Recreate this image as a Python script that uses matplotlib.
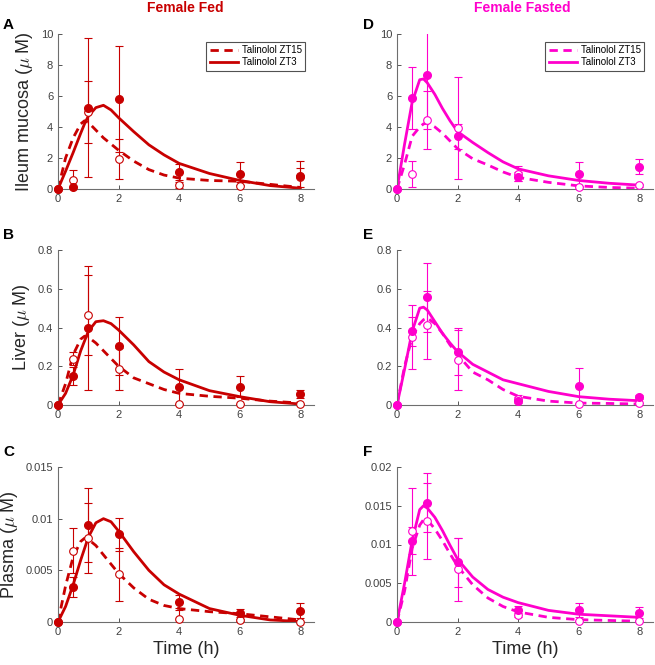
import numpy as np
import matplotlib.pyplot as plt
from matplotlib.ticker import FuncFormatter

plt.rcParams['font.family'] = ['Liberation Sans', 'DejaVu Sans']
plt.rcParams['mathtext.fontset'] = 'cm'

# sampling times (h)
t_data = [0, 0.5, 1, 2, 4, 6, 8]
t_fit = [0, 0.25, 0.5, 0.75, 0.875, 1, 1.25, 1.5, 1.75, 2, 2.5, 3, 3.5, 4, 5, 6, 7, 8]

# A: ileum mucosa, fed
ileum_fed_zt3 = [0, 0.15, 5.25, 5.8, 1.1, 1.0, 0.85]
ileum_fed_zt3_err = [0, 0, 4.5, 3.4, 0.5, 0.75, 0.95]
ileum_fed_zt15 = [0, 0.6, 5.0, 1.95, 0.25, 0.2, 0.75]
ileum_fed_zt15_err = [0, 0.65, 2.0, 1.3, 0.2, 0.25, 0.6]
ileum_fed_fit_zt3 = [0, 1.15, 2.35, 3.6, 4.2, 4.7, 5.25, 5.4, 5.1, 4.6, 3.7, 2.85, 2.2, 1.65, 1.0, 0.55, 0.22, 0.05]
ileum_fed_fit_zt15 = [0, 2.0, 3.3, 4.2, 4.4, 4.3, 3.8, 3.3, 2.9, 2.5, 1.8, 1.25, 0.9, 0.7, 0.55, 0.5, 0.3, 0.1]

# B: liver, fed
liver_fed_zt3 = [0, 0.15, 0.4, 0.305, 0.095, 0.095, 0.055]
liver_fed_zt3_err = [0, 0.045, 0.32, 0.15, 0.09, 0.055, 0.02]
liver_fed_zt15 = [0, 0.24, 0.465, 0.185, 0.005, 0.005, 0.005]
liver_fed_zt15_err = [0, 0.035, 0.205, 0.11, 0, 0, 0]
liver_fed_fit_zt3 = [0, 0.06, 0.155, 0.28, 0.33, 0.38, 0.43, 0.435, 0.42, 0.387, 0.31, 0.224, 0.17, 0.13, 0.074, 0.043, 0.017, 0.005]
liver_fed_fit_zt15 = [0, 0.11, 0.26, 0.34, 0.355, 0.35, 0.32, 0.28, 0.24, 0.2, 0.14, 0.11, 0.08, 0.06, 0.045, 0.035, 0.02, 0.01]

# C: plasma, fed
plasma_fed_zt3 = [0, 0.0034, 0.0094, 0.0085, 0.0019, 0.0009, 0.0011]
plasma_fed_zt3_err = [0, 0.001, 0.0036, 0.0016, 0.0007, 0.0004, 0.0007]
plasma_fed_zt15 = [0, 0.0069, 0.0081, 0.0046, 0.0003, 0.0002, 0.0]
plasma_fed_zt15_err = [0, 0.0022, 0.0034, 0.0026, 0.0011, 0.0001, 0]
plasma_fed_fit_zt3 = [0, 0.0015, 0.0036, 0.006, 0.0071, 0.0082, 0.0096, 0.01, 0.0097, 0.0088, 0.0068, 0.005, 0.0036, 0.0027, 0.0013, 0.00065, 0.0002, 0.00005]
plasma_fed_fit_zt15 = [0, 0.0035, 0.0063, 0.0078, 0.0081, 0.008, 0.0074, 0.0065, 0.0056, 0.0047, 0.0033, 0.0022, 0.0016, 0.0013, 0.001, 0.0008, 0.0005, 0.0002]

# D: ileum mucosa, fasted
ileum_fast_zt3 = [0, 5.85, 7.35, 3.4, 0.8, 0.95, 1.45]
ileum_fast_zt3_err = [0, 2.0, 3.5, 0.8, 0.3, 0.8, 0.5]
ileum_fast_zt15 = [0, 0.95, 4.45, 3.95, 1.0, 0.1, 0.25]
ileum_fast_zt15_err = [0, 0.85, 1.85, 3.3, 0.5, 0.1, 0.1]
ileum_fast_fit_zt3 = [0, 2.9, 5.6, 7.05, 7.1, 6.85, 6.1, 5.2, 4.4, 3.7, 3.0, 2.35, 1.75, 1.3, 0.85, 0.55, 0.37, 0.25]
ileum_fast_fit_zt15 = [0, 1.6, 3.4, 4.0, 4.2, 4.25, 4.0, 3.6, 3.1, 2.6, 1.95, 1.55, 1.1, 0.75, 0.43, 0.2, 0.1, 0.05]

# E: liver, fasted
liver_fast_zt3 = [0, 0.38, 0.555, 0.275, 0.02, 0.1, 0.04]
liver_fast_zt3_err = [0, 0.075, 0.18, 0.12, 0.02, 0.09, 0.01]
liver_fast_zt15 = [0, 0.35, 0.415, 0.23, 0.03, 0.005, 0.01]
liver_fast_zt15_err = [0, 0.165, 0.175, 0.155, 0.02, 0, 0]
liver_fast_fit_zt3 = [0, 0.185, 0.38, 0.5, 0.505, 0.49, 0.43, 0.37, 0.32, 0.275, 0.21, 0.17, 0.13, 0.11, 0.07, 0.043, 0.03, 0.022]
liver_fast_fit_zt15 = [0, 0.2, 0.35, 0.42, 0.44, 0.45, 0.42, 0.37, 0.31, 0.26, 0.17, 0.13, 0.08, 0.045, 0.02, 0.01, 0.008, 0.005]

# F: plasma, fasted
plasma_fast_zt3 = [0, 0.0105, 0.0154, 0.0077, 0.0015, 0.0015, 0.0012]
plasma_fast_zt3_err = [0, 0.0017, 0.0038, 0.0032, 0.0006, 0.0009, 0.0007]
plasma_fast_zt15 = [0, 0.0117, 0.013, 0.0068, 0.0009, 0.0001, 0.0001]
plasma_fast_zt15_err = [0, 0.0056, 0.0049, 0.0041, 0.0002, 0, 0]
plasma_fast_fit_zt3 = [0, 0.005, 0.0105, 0.0145, 0.015, 0.0147, 0.0135, 0.0118, 0.0099, 0.0081, 0.0058, 0.0042, 0.0032, 0.0025, 0.0015, 0.001, 0.0008, 0.0006]
plasma_fast_fit_zt15 = [0, 0.004, 0.0095, 0.0125, 0.0132, 0.0132, 0.012, 0.0105, 0.0088, 0.0072, 0.0048, 0.0031, 0.002, 0.0013, 0.0006, 0.0003, 0.0002, 0.0001]

ylabels = ['Ileum mucosa ($\\mu$ M)', 'Liver ($\\mu$ M)', 'Plasma ($\\mu$ M)']
yticks_fed = [[0, 2, 4, 6, 8, 10], [0, 0.2, 0.4, 0.6, 0.8], [0, 0.005, 0.01, 0.015]]
yticks_fast = [[0, 2, 4, 6, 8, 10], [0, 0.2, 0.4, 0.6, 0.8], [0, 0.005, 0.01, 0.015, 0.02]]

RED = '#c80000'
MAG = '#ff00cc'

panels = [
    # letter, col, row, color, zt3, zt3_err, zt15, zt15_err, fit3, fit15, yticks
    ('A', 0, 0, RED, ileum_fed_zt3, ileum_fed_zt3_err, ileum_fed_zt15, ileum_fed_zt15_err, ileum_fed_fit_zt3, ileum_fed_fit_zt15, yticks_fed[0]),
    ('B', 0, 1, RED, liver_fed_zt3, liver_fed_zt3_err, liver_fed_zt15, liver_fed_zt15_err, liver_fed_fit_zt3, liver_fed_fit_zt15, yticks_fed[1]),
    ('C', 0, 2, RED, plasma_fed_zt3, plasma_fed_zt3_err, plasma_fed_zt15, plasma_fed_zt15_err, plasma_fed_fit_zt3, plasma_fed_fit_zt15, yticks_fed[2]),
    ('D', 1, 0, MAG, ileum_fast_zt3, ileum_fast_zt3_err, ileum_fast_zt15, ileum_fast_zt15_err, ileum_fast_fit_zt3, ileum_fast_fit_zt15, yticks_fast[0]),
    ('E', 1, 1, MAG, liver_fast_zt3, liver_fast_zt3_err, liver_fast_zt15, liver_fast_zt15_err, liver_fast_fit_zt3, liver_fast_fit_zt15, yticks_fast[1]),
    ('F', 1, 2, MAG, plasma_fast_zt3, plasma_fast_zt3_err, plasma_fast_zt15, plasma_fast_zt15_err, plasma_fast_fit_zt3, plasma_fast_fit_zt15, yticks_fast[2]),
]

W, H = 655, 665
fig = plt.figure(figsize=(W / 100, H / 100), dpi=100)

col_left = [58, 397]
row_top = [34, 250, 467]
letter_y = [25, 235, 452]
ax_w, ax_h = 256, 155

fmt = FuncFormatter(lambda v, p: '%g' % v)

for letter, col, row, color, zt3, zt3_err, zt15, zt15_err, fit3, fit15, yt in panels:
    x0 = col_left[col]
    y0 = row_top[row]
    ax = fig.add_axes([x0 / W, 1 - (y0 + ax_h) / H, ax_w / W, ax_h / H])

    ax.errorbar(t_data, zt15, yerr=zt15_err, fmt='none', ecolor=color, elinewidth=0.8, capsize=3, capthick=0.8)
    ax.errorbar(t_data, zt3, yerr=zt3_err, fmt='none', ecolor=color, elinewidth=0.8, capsize=3, capthick=0.8)

    ax.plot(t_fit, fit15, color=color, lw=2, ls=(0, (3, 2)), label='Talinolol ZT15')
    ax.plot(t_fit, fit3, color=color, lw=2, label='Talinolol ZT3')

    ax.plot(t_data, zt15, 'o', ms=5.5, mfc='white', mec=color, mew=0.8, ls='none', clip_on=False, zorder=4)
    ax.plot(t_data, zt3, 'o', ms=5.5, mfc=color, mec=color, ls='none', clip_on=False, zorder=5)

    ax.set_xlim(0, 8.45)
    ax.set_ylim(0, yt[-1])
    ax.set_xticks([0, 2, 4, 6, 8])
    ax.set_yticks(yt)
    ax.yaxis.set_major_formatter(fmt)
    ax.tick_params(direction='in', length=3, width=0.7, colors='#555555', labelsize=8, labelcolor='#404040')
    for s in ['top', 'right']:
        ax.spines[s].set_visible(False)
    for s in ['left', 'bottom']:
        ax.spines[s].set_color('#6e6e6e')
        ax.spines[s].set_linewidth(0.8)

    if col == 0:
        ax.set_ylabel(ylabels[row], fontsize=13, color='#262626', labelpad=4)
    if row == 2:
        ax.set_xlabel('Time (h)', fontsize=13, color='#262626', labelpad=3)
    if row == 0:
        leg = ax.legend(loc='upper right', bbox_to_anchor=(0.965, 0.95), borderaxespad=0,
                        fontsize=7, frameon=True, fancybox=False, handlelength=2.9,
                        borderpad=0.35, labelspacing=0.2, handletextpad=0.4)
        leg.get_frame().set_edgecolor('#262626')
        leg.get_frame().set_linewidth(0.8)

    lx = 3 if col == 0 else 363
    fig.text(lx / W, 1 - letter_y[row] / H, letter, fontsize=11, fontweight='bold', va='center', ha='left')

fig.text(185 / W, 1 - 8 / H, 'Female Fed', fontsize=10, fontweight='bold', color=RED, ha='center', va='center')
fig.text(522 / W, 1 - 8 / H, 'Female Fasted', fontsize=10, fontweight='bold', color=MAG, ha='center', va='center')

fig.savefig('out.png', dpi=100)
